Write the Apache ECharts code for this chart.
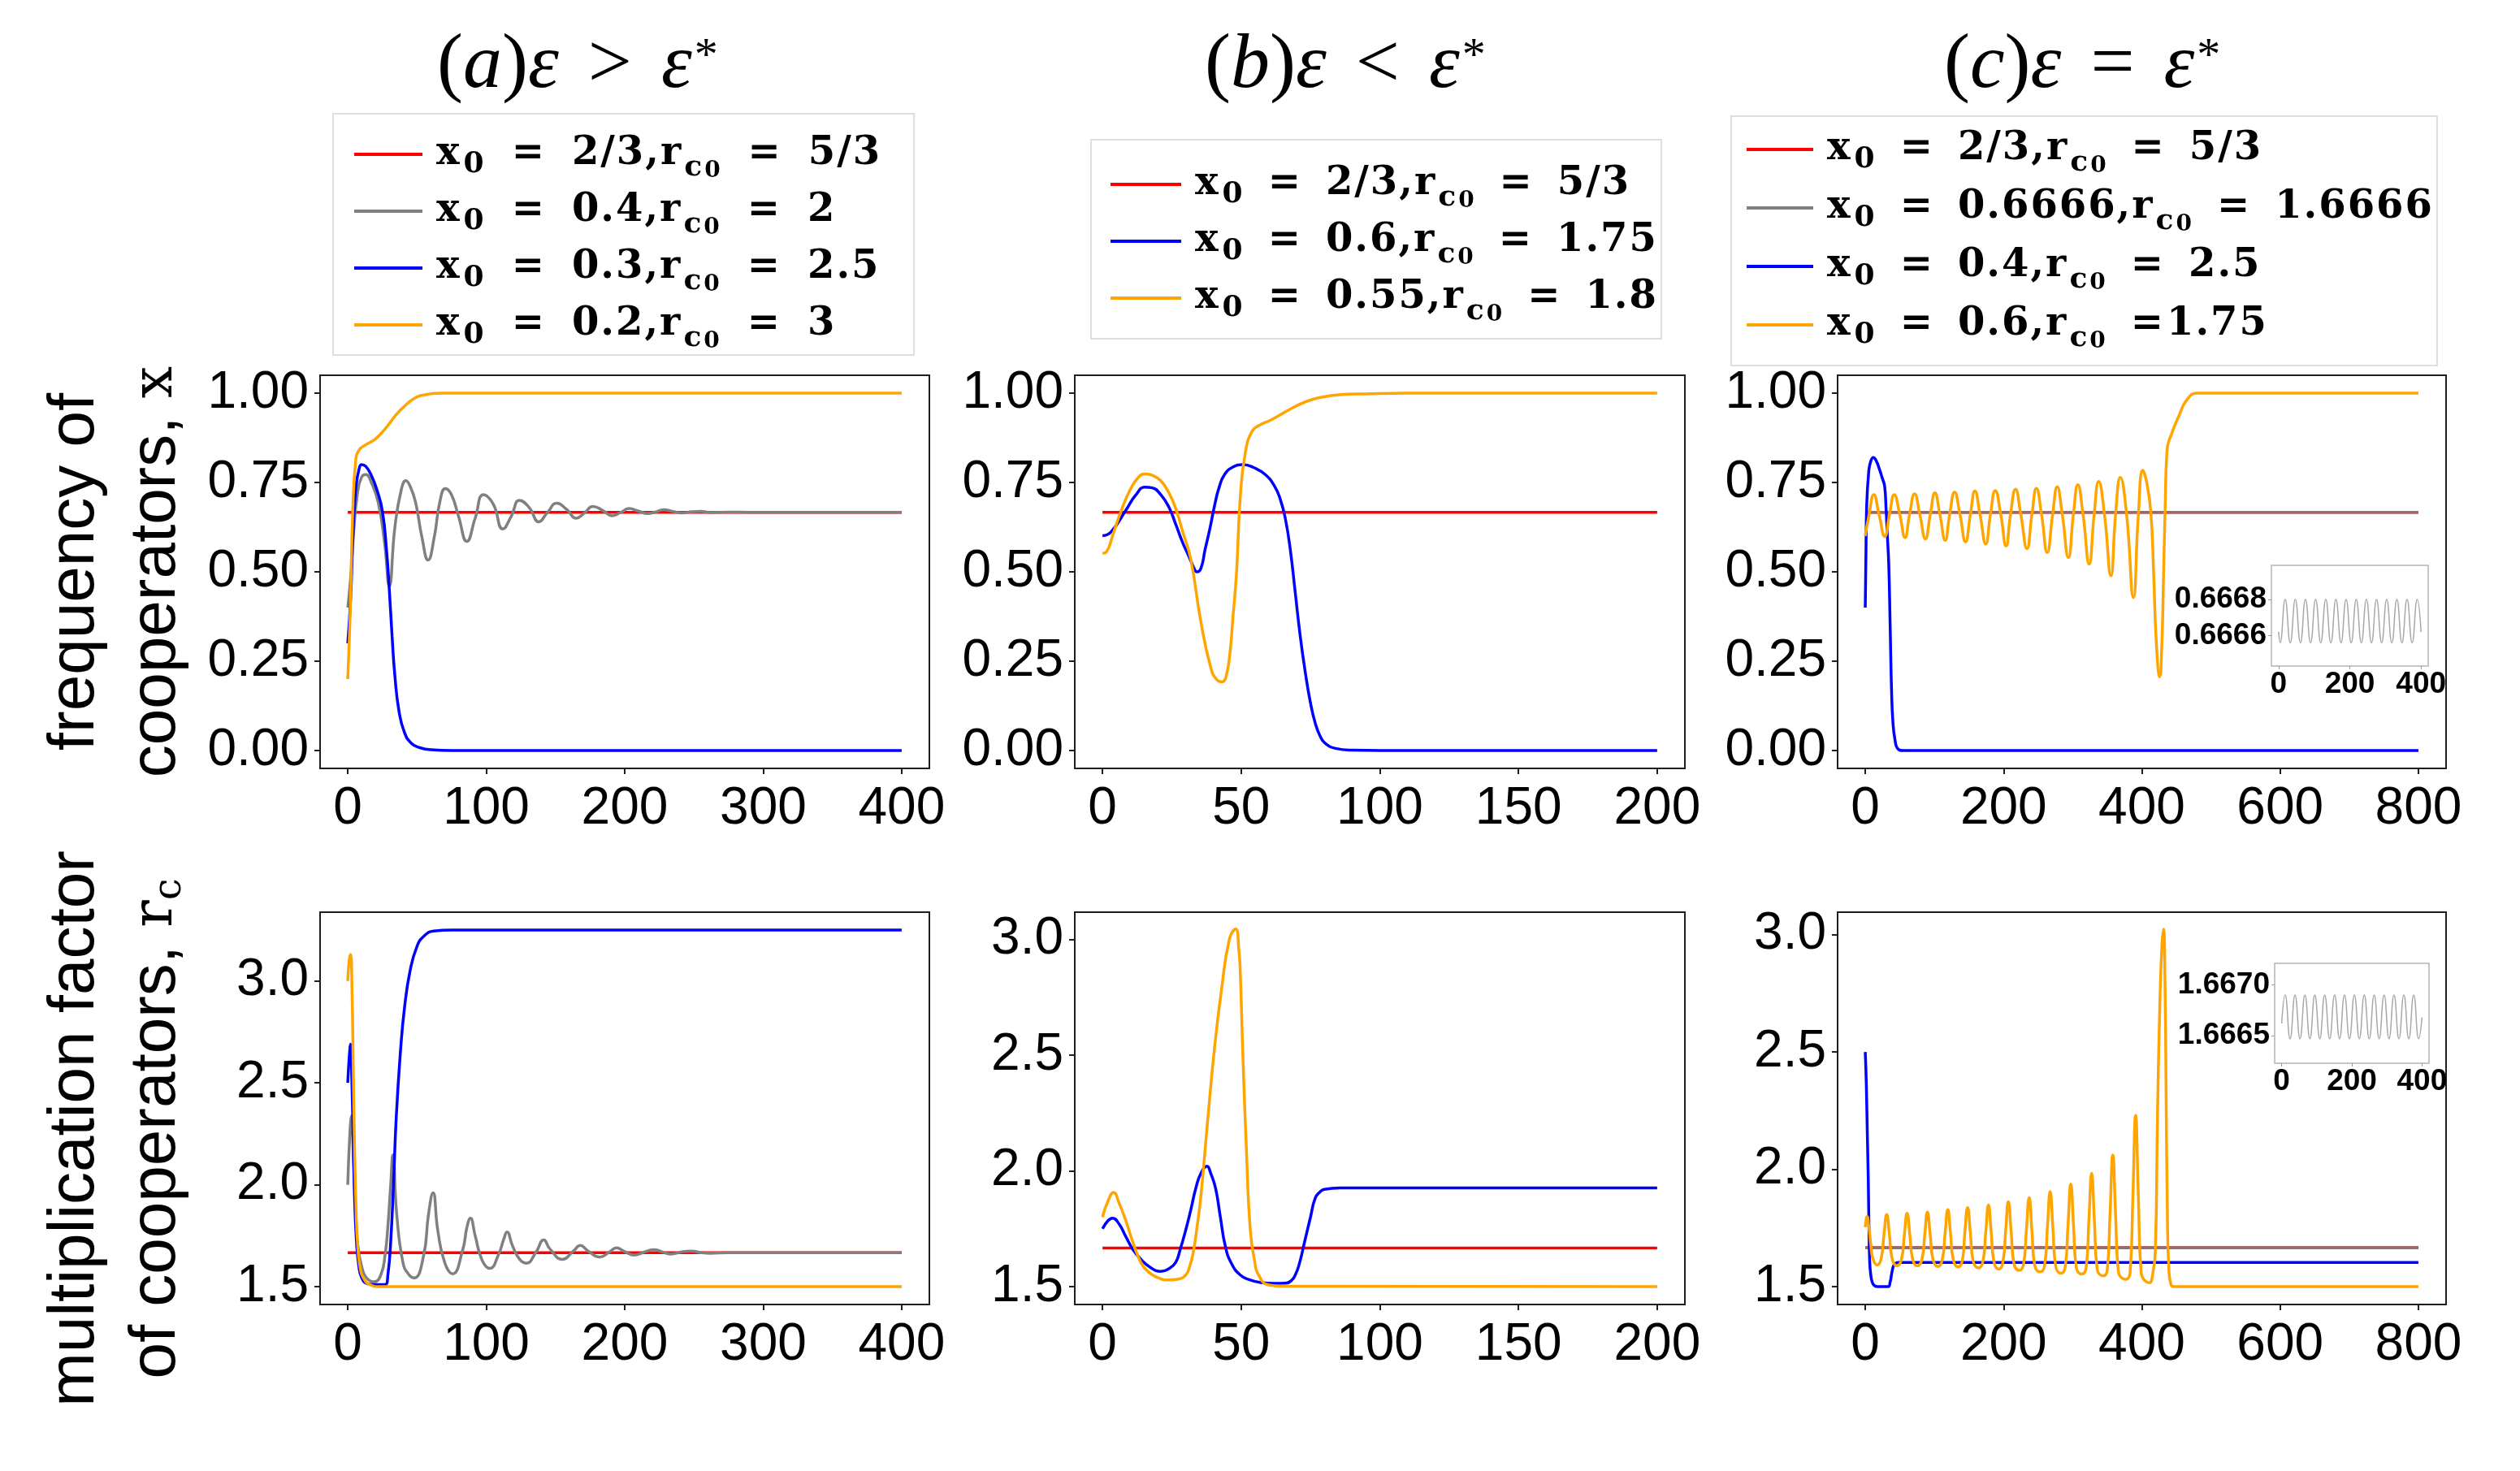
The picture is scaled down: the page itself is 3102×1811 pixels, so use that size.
<!DOCTYPE html>
<html>
<head>
<meta charset="utf-8">
<script src="https://cdn.jsdelivr.net/npm/echarts@6.0.0/dist/echarts.min.js"></script>
<style>
html, body { margin: 0; padding: 0; background: #fff; }
#main { width: 3102px; height: 1811px; }
</style>
</head>
<body>
<div id="main"></div>
<script>
var chart = echarts.init(document.getElementById('main'));

// ---- values: [time, value] ----
// (a) eps > eps*
var aRedX = [[0, 0.6667], [400, 0.6667]];
var aGrayX = [[0,0.40],[2,0.48],[4,0.60],[7,0.72],[10,0.765],[13,0.772],[17,0.75],[22,0.694],[26.6,0.58],[30,0.46],[34,0.624],[38.6,0.729],[42,0.755],[45,0.74],[49,0.694],[53.5,0.598],[58,0.533],[62.5,0.598],[66.4,0.694],[70.5,0.733],[75,0.715],[80,0.655],[86,0.585],[92,0.65],[98,0.716],[105,0.69],[112,0.62],[118,0.655],[124,0.70],[131,0.68],[138,0.64],[144,0.665],[151,0.692],[158,0.675],[165,0.65],[171,0.665],[177,0.683],[184,0.672],[191,0.657],[197,0.666],[203,0.677],[210,0.67],[216.5,0.663],[222,0.667],[228,0.674],[235,0.669],[242,0.6645],[248,0.668],[255,0.6695],[262,0.666],[275,0.6672],[290,0.6665],[400,0.6667]];
var aBlueX = [[0,0.30],[2,0.42],[4,0.62],[6,0.74],[8,0.785],[10,0.80],[13,0.795],[17,0.77],[21,0.73],[25,0.67],[28,0.56],[30,0.45],[32,0.32],[34,0.21],[37,0.11],[41,0.05],[46,0.02],[52,0.008],[60,0.002],[75,0],[400,0]];
var aOrangeX = [[0,0.20],[1,0.30],[2,0.42],[3.6,0.67],[5.7,0.81],[8,0.84],[12,0.853],[20,0.872],[28,0.905],[35,0.94],[40,0.96],[48,0.985],[55,0.995],[70,1.0],[400,1.0]];
var aRedR = [[0, 1.6667], [400, 1.6667]];
var aGrayR = [[0,2.0],[1.5,2.25],[2.7,2.337],[4,2.15],[5.5,1.9],[7,1.72],[10,1.6],[14,1.54],[19,1.524],[24,1.56],[27,1.66],[29,1.8],[31,2.0],[32.6,2.147],[35.3,1.86],[39.8,1.62],[44,1.56],[48,1.543],[54.7,1.65],[58.3,1.855],[61.6,1.961],[65,1.776],[70,1.618],[75.7,1.563],[83,1.68],[86,1.79],[88.6,1.836],[92,1.75],[97,1.63],[102.6,1.59],[109,1.66],[112.5,1.73],[115,1.768],[119,1.7],[124,1.635],[129,1.615],[136,1.67],[141.5,1.729],[146,1.685],[155,1.634],[163,1.675],[168,1.702],[173,1.678],[182,1.645],[189,1.67],[194,1.69],[200,1.672],[207,1.655],[215,1.672],[221,1.682],[227,1.671],[233,1.66],[242,1.672],[248,1.675],[255,1.667],[262,1.664],[275,1.667],[400,1.6667]];
var aBlueR = [[0,2.5],[1,2.62],[2,2.69],[3,2.5],[4,2.2],[5,1.92],[6.3,1.72],[8,1.6],[10,1.545],[14,1.515],[20,1.51],[27,1.51],[29,1.56],[31,1.72],[33,2.0],[35,2.33],[38,2.65],[41,2.87],[45,3.05],[50,3.17],[55,3.22],[62,3.245],[75,3.25],[400,3.25]];
var aOrangeR = [[0,3.0],[1,3.1],[2,3.13],[3,2.98],[4,2.55],[5,2.15],[6,1.88],[7,1.72],[9,1.59],[12,1.535],[16,1.51],[22,1.5],[400,1.5]];

// (b) eps < eps*
var bRedX = [[0, 0.6667], [200, 0.6667]];
var bBlueX = [[0,0.601],[3,0.611],[8.4,0.672],[12,0.715],[15.3,0.737],[18,0.735],[21,0.716],[24,0.68],[26.4,0.633],[29,0.58],[31,0.546],[33,0.51],[34,0.50],[35.5,0.51],[37,0.563],[38.7,0.62],[40.4,0.685],[42,0.735],[44,0.772],[47,0.793],[50.6,0.80],[54.5,0.792],[58.7,0.772],[62,0.74],[64.1,0.703],[65.9,0.65],[67.7,0.563],[69.5,0.442],[71.3,0.32],[73.1,0.22],[74.9,0.137],[76.7,0.077],[78.5,0.04],[80.3,0.02],[84,0.006],[90,0.001],[100,0],[200,0]];
var bOrangeX = [[0,0.552],[1.3,0.555],[4,0.61],[6.6,0.668],[10,0.73],[13,0.765],[15.6,0.774],[18,0.77],[21,0.755],[24,0.72],[26.4,0.677],[29,0.61],[31.8,0.537],[35.4,0.363],[39,0.233],[41,0.2],[43,0.192],[44.5,0.205],[46,0.277],[47,0.37],[48.3,0.494],[49.7,0.711],[51.5,0.833],[54,0.894],[57,0.912],[60.5,0.924],[67.7,0.955],[73,0.975],[78.5,0.988],[86,0.996],[94.6,0.998],[110,1.0],[200,1.0]];
var bRedR = [[0, 1.6667], [200, 1.6667]];
var bBlueR = [[0,1.75],[2,1.785],[3.6,1.796],[6,1.77],[8.4,1.716],[11,1.66],[13.8,1.619],[17,1.585],[21,1.566],[24,1.578],[26.4,1.605],[28,1.66],[30,1.744],[32,1.84],[33.6,1.923],[35.5,1.99],[37.7,2.02],[39,1.99],[40.8,1.923],[42.5,1.8],[44.3,1.674],[46.5,1.6],[49.7,1.55],[53,1.53],[57,1.518],[62,1.514],[66,1.515],[68,1.525],[69.5,1.55],[71,1.6],[73,1.70],[75,1.8],[76.7,1.882],[78.5,1.91],[80,1.92],[85.6,1.926],[95,1.926],[200,1.926]];
var bOrangeR = [[0,1.80],[2,1.87],[4,1.907],[6,1.86],[8.4,1.785],[11,1.69],[13.8,1.605],[16,1.57],[19.2,1.543],[23.7,1.529],[27,1.532],[30,1.55],[31.5,1.59],[32.7,1.647],[34,1.75],[35.4,1.882],[38,2.228],[40.4,2.532],[42.9,2.781],[45.8,3.003],[48,3.044],[49.2,2.95],[49.7,2.85],[50.6,2.505],[51.9,2.09],[53.3,1.744],[55,1.6],[56,1.557],[59.6,1.508],[65,1.502],[200,1.5]];

// (c) eps = eps*
var cRedX = [[0, 0.6667], [800, 0.6667]];
var cGrayX = [[0, 0.6667], [800, 0.6667]];
var cBlueX = [[0,0.4],[1,0.55],[2,0.68],[5,0.78],[8,0.81],[11.7,0.82],[16,0.81],[20,0.79],[25,0.76],[28,0.74],[30,0.68],[32,0.6],[34,0.52],[36,0.35],[38,0.17],[40,0.08],[43,0.03],[47,0.005],[55,0],[800,0]];
var cOrangeX = [[0,0.600],[5,0.655],[12.5,0.716],[20,0.66],[28.2,0.599],[35,0.66],[41.9,0.716],[50,0.66],[57.6,0.5955],[64,0.66],[71.3,0.718],[79,0.66],[87,0.592],[94,0.66],[100.7,0.721],[108,0.66],[115.6,0.588],[122,0.66],[129.2,0.723],[137,0.66],[145,0.584],[152,0.66],[158.6,0.726],[166,0.66],[174.3,0.578],[181,0.66],[188,0.7275],[196,0.66],[203.7,0.572],[210,0.66],[217.3,0.731],[225,0.66],[233.9,0.565],[241,0.66],[247.5,0.7335],[255,0.66],[263.2,0.554],[271,0.66],[277.6,0.738],[285,0.66],[293.8,0.540],[301,0.66],[307.4,0.744],[315,0.66],[323.9,0.522],[331,0.66],[337.6,0.753],[346,0.66],[355.3,0.489],[362,0.66],[368.9,0.764],[378,0.66],[387.8,0.428],[395,0.66],[401.4,0.784],[407,0.75],[413,0.667],[417,0.5],[421,0.3],[425.8,0.2065],[429,0.3],[431.5,0.5],[433.6,0.667],[436.4,0.84],[443,0.886],[454,0.938],[465,0.981],[480,1.0],[800,1.0]];
var cRedR = [[0, 1.6667], [800, 1.6667]];
var cGrayR = [[0, 1.6667], [800, 1.6667]];
var cBlueR = [[0,2.5],[1,2.42],[2,2.3],[3,2.15],[4.4,1.95],[5.5,1.72],[6.5,1.6],[8,1.55],[10,1.52],[13,1.505],[18,1.5],[33,1.5],[36,1.52],[38.5,1.56],[41,1.59],[44,1.6],[48,1.603],[800,1.6034]];
var cOrangeR = [[0,1.753],[1.5,1.79],[2.7,1.799],[5,1.76],[8,1.68],[11,1.62],[17.3,1.592],
  [23,1.62],[27,1.72],[31,1.807],[35,1.72],[39,1.618],[46,1.5885],
  [52.5,1.618],[56.5,1.72],[60.5,1.813],[64.5,1.72],[68.5,1.618],[75,1.5885],
  [82,1.617],[86,1.72],[89.9,1.818],[94,1.72],[98,1.616],[105,1.586],
  [111.4,1.615],[115.4,1.725],[119.4,1.828],[123.4,1.725],[127.4,1.614],[134.3,1.584],
  [140.5,1.613],[144,1.73],[148,1.837],[152,1.73],[156,1.61],[163.7,1.58],
  [170.2,1.608],[174.2,1.73],[178.2,1.848],[182.2,1.73],[186.2,1.605],[193.2,1.575],
  [199,1.603],[203,1.735],[206.9,1.862],[211,1.735],[215,1.6],[222.6,1.569],
  [229,1.597],[233,1.74],[237.1,1.879],[241,1.74],[245,1.593],[252.9,1.563],
  [259.4,1.59],[263.4,1.75],[267.4,1.905],[271.4,1.75],[275.4,1.587],[283.1,1.557],
  [289.2,1.585],[293.2,1.76],[297.2,1.937],[301.2,1.76],[305.2,1.582],[313,1.554],
  [319.4,1.58],[323.4,1.78],[327.4,1.983],[331.4,1.78],[335.4,1.575],[344.4,1.546],
  [350,1.572],[354,1.81],[358,2.061],[362,1.81],[366,1.565],[376.6,1.531],
  [383,1.56],[387,1.88],[391,2.23],[395,1.88],[399,1.56],[411,1.517],
  [416,1.56],[419.7,1.67],[422.5,2.2],[426,2.7],[429,2.95],[431.4,3.023],[433.5,2.8],[435,2.35],[437,1.8],[439,1.58],[442,1.51],[446,1.5],[800,1.5]];

// insets: the gray curve (x0 = 0.6666, rc0 = 1.6666) seen close up
var insetX = [[0,0.66662],[4.4,0.66656],[18.6,0.6668],[32.9,0.66656],[47.1,0.6668],[61.4,0.66656],[75.6,0.6668],[89.9,0.66656],[104.1,0.6668],[118.4,0.66656],[132.6,0.6668],[146.9,0.66656],[161.1,0.6668],[175.4,0.66656],[189.6,0.6668],[203.9,0.66656],[218.1,0.6668],[232.4,0.66656],[246.6,0.6668],[260.9,0.66656],[275.1,0.6668],[289.4,0.66656],[303.6,0.6668],[317.9,0.66656],[332.1,0.6668],[346.4,0.66656],[360.6,0.6668],[374.9,0.66656],[389.1,0.6668],[400,0.66662]];
var insetR = [[0,1.66662],[9.9,1.6669],[24,1.66647],[38.1,1.6669],[52.2,1.66647],[66.3,1.6669],[80.4,1.66647],[94.5,1.6669],[108.6,1.66647],[122.7,1.6669],[136.8,1.66647],[150.9,1.6669],[165,1.66647],[179.1,1.6669],[193.2,1.66647],[207.3,1.6669],[221.4,1.66647],[235.5,1.6669],[249.6,1.66647],[263.7,1.6669],[277.8,1.66647],[291.9,1.6669],[306,1.66647],[320.1,1.6669],[334.2,1.66647],[348.3,1.6669],[362.4,1.66647],[376.5,1.6669],[390.6,1.66647],[400,1.66668]];

// tick labels
var xTicksA = [0, 100, 200, 300, 400];
var xTicksB = [0, 50, 100, 150, 200];
var xTicksC = [0, 200, 400, 600, 800];
var yTicksX = [0, 0.25, 0.5, 0.75, 1.0];
var yTicksR = [1.5, 2.0, 2.5, 3.0];
var insetXTicks = [0, 200, 400];
var insetYTicksX = [0.6666, 0.6668];
var insetYTicksR = [1.6665, 1.6670];

// legend entries: initial x0 and rc0 of each run
var x0A = ['2/3', '0.4', '0.3', '0.2'], r0A = ['5/3', '2', '2.5', '3'];
var x0B = ['2/3', '0.6', '0.55'], r0B = ['5/3', '1.75', '1.8'];
var x0C = ['2/3', '0.6666', '0.4', '0.6'], r0C = ['5/3', '1.6666', '2.5', '1.75'];

var RED = '#ff0000', GRAY = '#808080', BLUE = '#0000ff', ORANGE = '#ffa500';
var SERIF = 'DejaVu Serif';
var SANS = 'Liberation Sans';

// the legend text of the figure is wide, so the characters get a little room
function spread(str) {
  return str.split('').map(function (ch) { return '{m|' + ch + '}'; }).join('');
}
function legendLabel(x0, r0, tight) {
  return '{x|x}{s|0}{e|=}' + spread(x0 + ',') + '{r|r}{c|c}{z|0}' + (tight ? '{f|=}' : '{e|=}') + spread(r0);
}
var legendLabels = {};
x0A.forEach(function (v, i) { legendLabels['a' + (i + 1)] = legendLabel(v, r0A[i]); });
x0B.forEach(function (v, i) { legendLabels['b' + (i + 1)] = legendLabel(v, r0B[i]); });
x0C.forEach(function (v, i) { legendLabels['c' + (i + 1)] = legendLabel(v, r0C[i], i === 3); });

function legendRich(eq) {
  var base = { fontFamily: SERIF, fontWeight: 'bold', fontSize: 48, lineHeight: 70 };
  function st(extra) { return Object.assign({}, base, extra); }
  return {
    x: st({ padding: [0, 3, 0, 12] }),
    m: st({ padding: [0, 2, 0, 0] }),
    r: st({ padding: [0, 2, 0, 0] }),
    e: st({ padding: [0, eq, 0, eq] }),
    f: st({ padding: [0, 4, 0, eq] }),
    s: { fontFamily: SERIF, fontWeight: 'bold', fontSize: 36, padding: [26, 0, 0, 2] },
    c: { fontFamily: SERIF, fontWeight: 'bold', fontSize: 36, padding: [33, 2, 0, 2] },
    z: { fontFamily: SERIF, fontWeight: 'bold', fontSize: 28, padding: [41, 0, 0, 1] }
  };
}

function legendBox(names, left, top, pad, itemW, gap, eq) {
  return {
    data: names, orient: 'vertical', left: left, top: top, padding: pad,
    itemWidth: itemW, itemHeight: 4, itemGap: gap, icon: 'rect',
    borderColor: '#dedede', borderWidth: 2, backgroundColor: '#ffffff',
    selectedMode: false,
    formatter: function (n) { return legendLabels[n]; },
    textStyle: { color: '#000', fontFamily: SERIF, fontSize: 48, lineHeight: 70, rich: legendRich(eq) }
  };
}

var titleRich = {
  n: { fontFamily: 'Liberation Serif', fontWeight: 'normal', fontSize: 96, lineHeight: 104, color: '#000' },
  i: { fontFamily: 'Liberation Serif', fontWeight: 'normal', fontStyle: 'italic', fontSize: 96, lineHeight: 104, color: '#000' },
  o: { fontFamily: 'Liberation Serif', fontWeight: 'normal', fontSize: 96, lineHeight: 104, color: '#000', padding: [0, 36, 0, 36] },
  p: { fontFamily: 'Liberation Serif', fontWeight: 'normal', fontSize: 58, lineHeight: 58, color: '#000', padding: [0, 0, 22, 3] }
};

function grid(l, t, w, h, inset) {
  return {
    left: l, top: t, width: w, height: h, show: true, containLabel: false, outerBoundsMode: 'none',
    borderColor: inset ? '#b4b4b4' : '#1e1e1e', borderWidth: inset ? 1.5 : 2,
    backgroundColor: '#ffffff'
  };
}

function xAx(gi, min, max, ticks, inset) {
  return {
    type: 'value', gridIndex: gi, min: min, max: max,
    axisLine: { show: false, onZero: false }, splitLine: { show: false },
    axisTick: { show: true, customValues: ticks, length: inset ? 4 : 7,
      lineStyle: { color: inset ? '#999' : '#1e1e1e', width: inset ? 1 : 2 } },
    axisLabel: { customValues: ticks, color: '#000', fontFamily: SANS,
      fontSize: inset ? 37 : 64, fontWeight: inset ? 'bold' : 'normal', margin: inset ? 4 : 18 }
  };
}

function yAx(gi, min, max, ticks, digits, inset) {
  return {
    type: 'value', gridIndex: gi, min: min, max: max,
    axisLine: { show: false, onZero: false }, splitLine: { show: false },
    axisTick: { show: true, customValues: ticks, length: inset ? 4 : 7,
      lineStyle: { color: inset ? '#999' : '#1e1e1e', width: inset ? 1 : 2 } },
    axisLabel: { customValues: ticks, color: '#000', fontFamily: SANS,
      fontSize: inset ? 37 : 64, fontWeight: inset ? 'bold' : 'normal', margin: inset ? 6 : 14,
      formatter: function (v) { return v.toFixed(digits); } }
  };
}

function line(name, data, color, gi, opts) {
  opts = opts || {};
  return {
    name: name, type: 'line', xAxisIndex: gi, yAxisIndex: gi, data: data,
    symbol: 'none', showSymbol: false, smooth: 0.5, color: color, silent: true,
    lineStyle: { color: color, width: opts.width || 3.5, opacity: opts.opacity || 1 }
  };
}

var nameRich = {
  t: { fontFamily: SANS, fontSize: 80, lineHeight: 100, color: '#000' },
  v: { fontFamily: SERIF, fontSize: 70, lineHeight: 100, color: '#000' },
  w: { fontFamily: SERIF, fontSize: 48, lineHeight: 48, color: '#000', padding: [34, 0, 0, 0] }
};

var yAxes = [
  yAx(0, -0.05, 1.05, yTicksX, 2),
  yAx(1, -0.05, 1.05, yTicksX, 2),
  yAx(2, -0.05, 1.05, yTicksX, 2),
  yAx(3, 1.4125, 3.3375, yTicksR, 1),
  yAx(4, 1.423, 3.117, yTicksR, 1),
  yAx(5, 1.424, 3.096, yTicksR, 1),
  yAx(6, 0.66643, 0.66699, insetYTicksX, 4, true),
  yAx(7, 1.66623, 1.66721, insetYTicksR, 4, true)
];
yAxes[0].name = '{t|frequency of}\n{t|cooperators, }{v|x}';
yAxes[0].nameLocation = 'middle';
yAxes[0].nameGap = 151;
yAxes[0].nameTextStyle = { fontFamily: SANS, fontSize: 80, lineHeight: 100, color: '#000', rich: nameRich };
yAxes[3].name = '{t|multiplication factor}\n{t|of cooperators, }{v|r}{w|c}';
yAxes[3].nameLocation = 'middle';
yAxes[3].nameGap = 151;
yAxes[3].nameTextStyle = { fontFamily: SANS, fontSize: 80, lineHeight: 100, color: '#000', padding: [0, 50, 0, 0], rich: nameRich };

var option = {
  animation: false,
  backgroundColor: '#ffffff',
  title: [
    { text: '{n|(}{i|a}{n|)}{i|ε}{o|>}{i|ε}{p|*}', left: 538, top: 30, padding: 0, textStyle: { fontWeight: 'normal', rich: titleRich } },
    { text: '{n|(}{i|b}{n|)}{i|ε}{o|<}{i|ε}{p|*}', left: 1483, top: 30, padding: 0, textStyle: { fontWeight: 'normal', rich: titleRich } },
    { text: '{n|(}{i|c}{n|)}{i|ε}{o|=}{i|ε}{p|*}', left: 2393, top: 30, padding: 0, textStyle: { fontWeight: 'normal', rich: titleRich } }
  ],
  legend: [
    legendBox(['a1', 'a2', 'a3', 'a4'], 410, 140, [15, 40, 2, 26], 84, 0, 34),
    legendBox(['b1', 'b2', 'b3'], 1343, 172, [20, 4, 15, 24], 87, 0, 31),
    legendBox(['c1', 'c2', 'c3', 'c4'], 2131, 143, [6, 4, 15, 19], 82, 2, 31)
  ],
  grid: [
    grid(394, 462, 750, 484), grid(1323, 462, 751, 484), grid(2262, 462, 749, 484),
    grid(394, 1123, 750, 483), grid(1323, 1123, 751, 483), grid(2262, 1123, 749, 483),
    grid(2796, 696, 193, 124, true), grid(2800, 1186, 190, 123, true)
  ],
  xAxis: [
    xAx(0, -20, 420, xTicksA), xAx(1, -10, 210, xTicksB), xAx(2, -40, 840, xTicksC),
    xAx(3, -20, 420, xTicksA), xAx(4, -10, 210, xTicksB), xAx(5, -40, 840, xTicksC),
    xAx(6, -20, 420, insetXTicks, true), xAx(7, -20, 420, insetXTicks, true)
  ],
  yAxis: yAxes,
  series: [
    line('a1', aRedX, RED, 0), line('a2', aGrayX, GRAY, 0), line('a3', aBlueX, BLUE, 0), line('a4', aOrangeX, ORANGE, 0),
    line('b1', bRedX, RED, 1), line('b2', bBlueX, BLUE, 1), line('b3', bOrangeX, ORANGE, 1),
    line('c1', cRedX, RED, 2), line('c2', cGrayX, GRAY, 2, { opacity: 0.85 }), line('c3', cBlueX, BLUE, 2), line('c4', cOrangeX, ORANGE, 2),
    line('a1', aRedR, RED, 3), line('a2', aGrayR, GRAY, 3), line('a3', aBlueR, BLUE, 3), line('a4', aOrangeR, ORANGE, 3),
    line('b1', bRedR, RED, 4), line('b2', bBlueR, BLUE, 4), line('b3', bOrangeR, ORANGE, 4),
    line('c1', cRedR, RED, 5), line('c2', cGrayR, GRAY, 5, { opacity: 0.85 }), line('c3', cBlueR, BLUE, 5), line('c4', cOrangeR, ORANGE, 5),
    line('c2 inset x', insetX, '#a8a8a8', 6, { width: 1.5 }),
    line('c2 inset r', insetR, '#a8a8a8', 7, { width: 1.5 })
  ]
};

chart.setOption(option);
</script>
</body>
</html>
